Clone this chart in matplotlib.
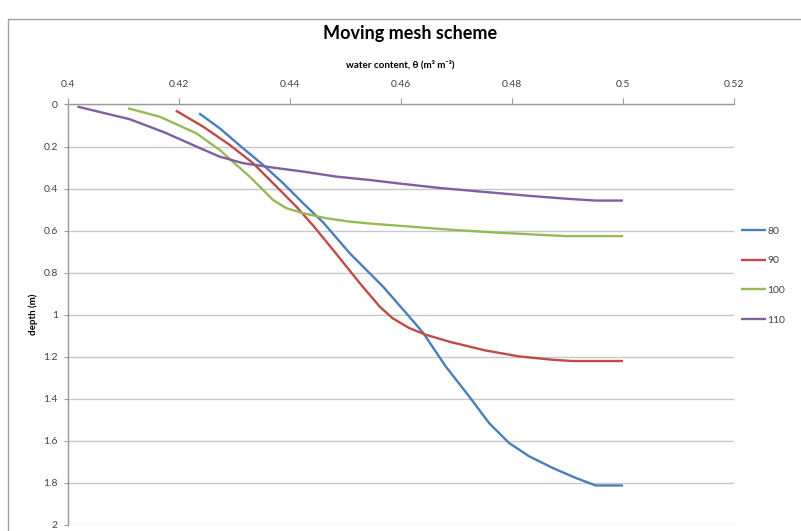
import matplotlib
matplotlib.use("Agg")
import matplotlib.pyplot as plt
from matplotlib.patches import Rectangle

# Water content profiles (theta, m3/m3) vs depth (m) for each time level
series_names = ["80", "90", "100", "110"]
series_colors = ["#4A7EBB", "#BE4B48", "#98B954", "#7D60A0"]

theta_80 = [0.4237, 0.4274, 0.4316, 0.4352, 0.4388, 0.4424, 0.4460, 0.4508,
            0.4568, 0.4615, 0.4640, 0.4681, 0.4723, 0.4759, 0.4795, 0.4831,
            0.4873, 0.4915, 0.4951, 0.5000]
depth_80 = [0.042, 0.113, 0.208, 0.287, 0.374, 0.469, 0.560, 0.707,
            0.866, 1.008, 1.085, 1.246, 1.388, 1.515, 1.610, 1.673,
            1.728, 1.776, 1.812, 1.812]

theta_90 = [0.4195, 0.4244, 0.4292, 0.4334, 0.4376, 0.4412, 0.4442, 0.4478,
            0.4526, 0.4562, 0.4585, 0.4615, 0.4645, 0.4690, 0.4753, 0.4813,
            0.4873, 0.4909, 0.5000]
depth_90 = [0.029, 0.105, 0.192, 0.279, 0.390, 0.486, 0.575, 0.691,
            0.849, 0.961, 1.016, 1.063, 1.095, 1.130, 1.170, 1.198,
            1.214, 1.220, 1.220]

theta_100 = [0.4109, 0.4166, 0.4232, 0.4274, 0.4304, 0.4328, 0.4352, 0.4370,
             0.4394, 0.4424, 0.4466, 0.4508, 0.4544, 0.4598, 0.4687, 0.4777,
             0.4898, 0.5000]
depth_100 = [0.018, 0.058, 0.137, 0.216, 0.287, 0.343, 0.406, 0.454,
             0.493, 0.517, 0.541, 0.557, 0.566, 0.577, 0.595, 0.610,
             0.626, 0.626]

theta_110 = [0.4018, 0.4112, 0.4175, 0.4232, 0.4274, 0.4316, 0.4364, 0.4424,
             0.4484, 0.4544, 0.4598, 0.4670, 0.4760, 0.4838, 0.4903, 0.4951,
             0.5000]
depth_110 = [0.010, 0.070, 0.133, 0.200, 0.248, 0.279, 0.298, 0.319,
             0.343, 0.359, 0.376, 0.397, 0.418, 0.436, 0.449, 0.457,
             0.457]

x_ticks = [0.40, 0.42, 0.44, 0.46, 0.48, 0.50, 0.52]
x_tick_labels = ["0.4", "0.42", "0.44", "0.46", "0.48", "0.5", "0.52"]
y_ticks = [0, 0.2, 0.4, 0.6, 0.8, 1.0, 1.2, 1.4, 1.6, 1.8, 2.0]
y_tick_labels = ["0", "0.2", "0.4", "0.6", "0.8", "1", "1.2", "1.4", "1.6", "1.8", "2"]

plt.rcParams["font.family"] = ["Lato", "DejaVu Sans"]

W, H = 801, 531
fig = plt.figure(figsize=(W / 100, H / 100), dpi=100)
fig.patch.set_facecolor("white")

# chart area frame
fig.patches.append(Rectangle((8 / W, -0.05), 1.2, 1 - 19 / H + 0.05,
                             transform=fig.transFigure, fill=False,
                             edgecolor="#A0A0A0", linewidth=1.0, clip_on=False))

left, right, top, bottom = 67.5, 734, 104.5, 525
ax = fig.add_axes([left / W, 1 - bottom / H, (right - left) / W, (bottom - top) / H])

grid_color = "#C8C8C8"
tick_color = "#404040"

all_series = [(theta_80, depth_80), (theta_90, depth_90),
              (theta_100, depth_100), (theta_110, depth_110)]
for (th, d), name, col in zip(all_series, series_names, series_colors):
    ax.plot(th, d, color=col, linewidth=1.7, label=name,
            solid_joinstyle="round", solid_capstyle="butt")

ax.set_xlim(0.40, 0.52)
ax.set_ylim(2.0, 0.0)
ax.xaxis.tick_top()
ax.xaxis.set_label_position("top")
ax.set_xticks(x_ticks)
ax.set_xticklabels(x_tick_labels)
ax.set_yticks(y_ticks)
ax.set_yticklabels(y_tick_labels)
ax.tick_params(axis="x", direction="out", length=4, color="#9A9A9A",
               labelsize=7.5, labelcolor=tick_color, pad=7)
ax.tick_params(axis="y", direction="out", length=3, color="#9A9A9A",
               labelsize=7.5, labelcolor=tick_color, pad=4)

ax.yaxis.grid(True, color=grid_color, linewidth=1.0)
ax.set_axisbelow(True)
for s in ["right", "bottom"]:
    ax.spines[s].set_visible(False)
for s in ["left", "top"]:
    ax.spines[s].set_color("#9A9A9A")
    ax.spines[s].set_linewidth(1.0)

ax.set_xlabel("water content, θ (m³ m⁻³)", fontsize=7, fontweight="bold",
              color="#000000", labelpad=9)
ax.set_ylabel("depth (m)", fontsize=7, fontweight="bold", color="#000000", labelpad=4)

fig.text(410 / W, 1 - 33 / H, "Moving mesh scheme", ha="center", va="center",
         fontsize=13, fontweight="bold", color="#000000")

leg = ax.legend(loc="upper left", bbox_to_anchor=(1.0, 0.727), frameon=False,
                fontsize=7.5, handlelength=2.4, handletextpad=0.1,
                labelspacing=1.95, borderaxespad=0.3)
for t in leg.get_texts():
    t.set_color(tick_color)

fig.savefig("out.png", dpi=100, facecolor="white")
